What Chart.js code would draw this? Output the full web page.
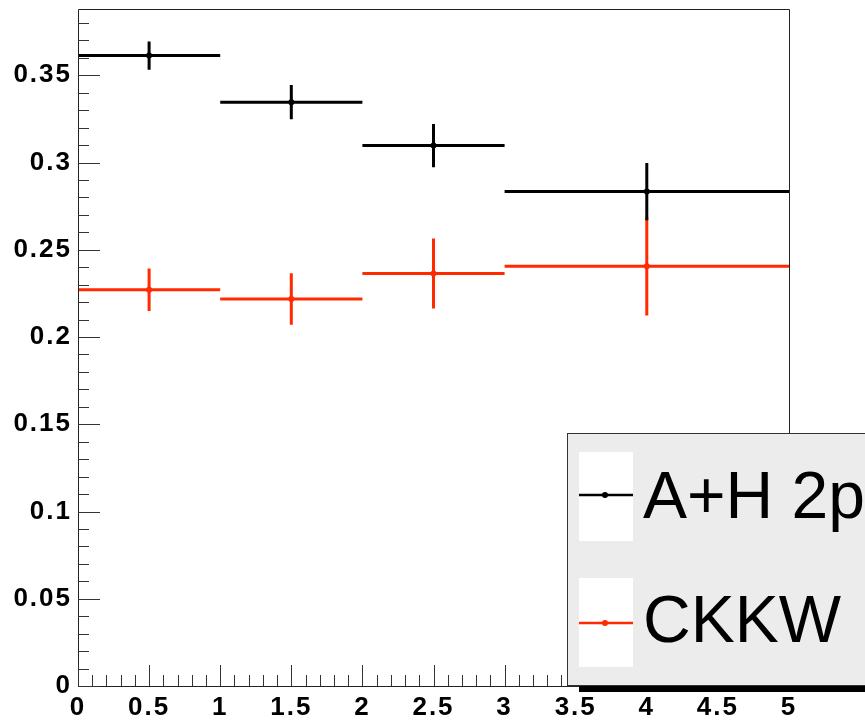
<!DOCTYPE html>
<html>
<head>
<meta charset="utf-8">
<script src="https://cdn.jsdelivr.net/npm/chart.js@4/dist/chart.umd.min.js"></script>
<style>
  html, body { margin: 0; padding: 0; background: #ffffff; }
  #wrap { width: 865px; height: 721px; position: relative; }
</style>
</head>
<body>
<div id="wrap"><canvas id="c" width="865" height="721"></canvas></div>
<script>
// Bin edges along x (last bin is twice as wide)
const binEdges = [0, 1, 2, 3, 5];

// "A+H 2p" series: bin contents and symmetric errors
const ahValues = [0.3613, 0.3346, 0.3097, 0.2834];
const ahErrors = [0.0081, 0.0098, 0.0124, 0.0164];

// "CKKW" series
const ckkwValues = [0.2271, 0.2218, 0.2364, 0.2405];
const ckkwErrors = [0.0122, 0.0148, 0.0200, 0.0282];

// Axis tick labels
const xTickValues = [0, 0.5, 1, 1.5, 2, 2.5, 3, 3.5, 4, 4.5, 5];
const yTickValues = [0, 0.05, 0.1, 0.15, 0.2, 0.25, 0.3, 0.35];

const seriesNames = ['A+H 2p', 'CKKW'];
const RED = '#ff2a00';

// Horizontal bin lines, separated by gaps
function binLines(edges, vals) {
  const pts = [];
  vals.forEach((v, i) => {
    pts.push({ x: edges[i], y: v }, { x: edges[i + 1], y: v }, { x: edges[i + 1], y: null });
  });
  return pts;
}
// Vertical error bars at bin centres
function errorLines(edges, vals, errs) {
  const pts = [];
  vals.forEach((v, i) => {
    const c = (edges[i] + edges[i + 1]) / 2;
    pts.push({ x: c, y: v - errs[i] }, { x: c, y: v + errs[i] }, { x: c, y: null });
  });
  return pts;
}
function centres(edges, vals) {
  return vals.map((v, i) => ({ x: (edges[i] + edges[i + 1]) / 2, y: v }));
}

function lineSet(data, color, order) {
  return {
    type: 'line', data, borderColor: color, backgroundColor: color,
    borderWidth: 3, pointRadius: 0, spanGaps: false, tension: 0, order
  };
}
function markerSet(data, color, order) {
  return {
    type: 'scatter', data, borderColor: color, backgroundColor: color,
    pointRadius: 3, pointBorderWidth: 0, showLine: false, order
  };
}

// Frame, inner tick marks and the boxed legend
const rootStyle = {
  id: 'rootStyle',
  beforeDraw(chart) {
    chart.ctx.letterSpacing = '2px';
  },
  afterDatasetsDraw(chart) {
    const { ctx, chartArea: a, scales } = chart;
    const xs = scales.x, ys = scales.y;
    ctx.save();
    ctx.letterSpacing = '0px';
    ctx.strokeStyle = '#222';
    ctx.lineWidth = 1;
    ctx.beginPath();
    ctx.rect(Math.round(a.left) + 0.5, Math.round(a.top) + 0.5,
             Math.round(a.right - a.left), Math.round(a.bottom - a.top));
    ctx.stroke();
    ctx.strokeStyle = '#333';
    ctx.beginPath();
    // y ticks: major 0.05, minor 0.01
    for (let k = 0; k <= 38; k++) {
      const v = k / 100;
      const py = Math.round(ys.getPixelForValue(v)) + 0.5;
      const len = (k % 5 === 0) ? 22 : 11;
      ctx.moveTo(a.left, py);
      ctx.lineTo(a.left + len, py);
    }
    // x ticks: major 0.5, minor 0.1
    for (let k = 0; k <= 50; k++) {
      const v = k / 10;
      const px = Math.round(xs.getPixelForValue(v)) + 0.5;
      const len = (k % 5 === 0) ? 21 : 11;
      ctx.moveTo(px, a.bottom);
      ctx.lineTo(px, a.bottom - len);
    }
    ctx.stroke();
    ctx.restore();
  },
  afterDraw(chart) {
    const { ctx } = chart;
    ctx.save();
    ctx.letterSpacing = '0px';
    // legend shadow
    ctx.fillStyle = '#000';
    ctx.fillRect(579, 686, 290, 6);
    // legend box
    ctx.fillStyle = '#ececec';
    ctx.fillRect(567, 433, 300, 253);
    ctx.strokeStyle = '#333';
    ctx.lineWidth = 1;
    ctx.strokeRect(567.5, 433.5, 300, 252);
    const rows = [
      { name: seriesNames[0], color: '#000', top: 452, lineY: 495, base: 518 },
      { name: seriesNames[1], color: RED, top: 578, lineY: 623, base: 642 }
    ];
    rows.forEach(r => {
      ctx.fillStyle = '#fff';
      ctx.fillRect(579, r.top, 54, 89);
      ctx.strokeStyle = r.color;
      ctx.lineWidth = 2.5;
      ctx.beginPath();
      ctx.moveTo(579, r.lineY);
      ctx.lineTo(633, r.lineY);
      ctx.stroke();
      ctx.fillStyle = r.color;
      ctx.beginPath();
      ctx.arc(605, r.lineY, 3, 0, Math.PI * 2);
      ctx.fill();
      ctx.fillStyle = '#000';
      ctx.font = '66px "Liberation Sans", Arial, sans-serif';
      ctx.textBaseline = 'alphabetic';
      ctx.textAlign = 'left';
      ctx.fillText(r.name, 643, r.base);
    });
    ctx.restore();
  }
};

const tickFont = { family: '"Liberation Sans", Arial, sans-serif', size: 26, weight: 'bold' };

new Chart(document.getElementById('c'), {
  data: {
    datasets: [
      lineSet(binLines(binEdges, ahValues), '#000', 1),
      lineSet(errorLines(binEdges, ahValues, ahErrors), '#000', 1),
      markerSet(centres(binEdges, ahValues), '#000', 0),
      lineSet(binLines(binEdges, ckkwValues), RED, 3),
      lineSet(errorLines(binEdges, ckkwValues, ckkwErrors), RED, 3),
      markerSet(centres(binEdges, ckkwValues), RED, 2)
    ]
  },
  options: {
    responsive: false,
    animation: false,
    events: [],
    layout: { padding: { top: 9, right: 76, left: 0, bottom: 0 } },
    plugins: { legend: { display: false }, tooltip: { enabled: false } },
    scales: {
      x: {
        type: 'linear', min: 0, max: 5,
        grid: { display: false, drawTicks: false },
        border: { display: false },
        afterBuildTicks: s => { s.ticks = xTickValues.map(v => ({ value: v })); },
        afterFit: s => { s.height = 35; s.paddingLeft = 0; s.paddingRight = 0; },
        ticks: {
          autoSkip: false, maxRotation: 0, padding: 6, color: '#000', font: tickFont,
          callback: v => String(v)
        }
      },
      y: {
        type: 'linear', min: 0, max: 0.388,
        grid: { display: false, drawTicks: false },
        border: { display: false },
        afterBuildTicks: s => { s.ticks = yTickValues.map(v => ({ value: v })); },
        afterFit: s => { s.width = 78; s.paddingTop = 0; s.paddingBottom = 0; },
        ticks: {
          autoSkip: false, padding: 6, color: '#000', font: tickFont,
          callback: v => String(Math.round(v * 100) / 100)
        }
      }
    }
  },
  plugins: [rootStyle]
});
</script>
</body>
</html>
